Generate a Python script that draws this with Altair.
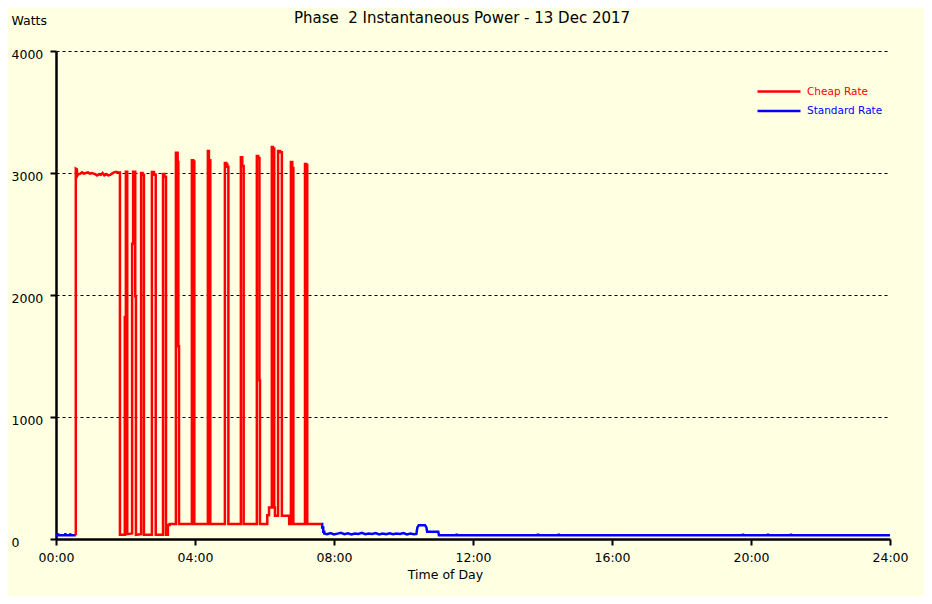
import altair as alt
import pandas as pd

# ---- data (hours of day, watts) ----
red_hours = [0.57, 0.57, 0.60, 0.61, 0.64, 0.70, 0.75, 0.80, 0.86, 0.92, 0.97, 1.03, 1.08, 1.13,
             1.18, 1.24, 1.29, 1.34, 1.39, 1.45, 1.50, 1.56, 1.61, 1.67, 1.73, 1.79, 1.84, 1.84,
             1.98, 1.98, 2.01, 2.01, 2.05, 2.05,
             2.19, 2.19, 2.22, 2.22, 2.28, 2.28, 2.30, 2.30,
             2.45, 2.45, 2.49, 2.49, 2.53, 2.53,
             2.76, 2.76, 2.82, 2.82, 2.87, 2.87,
             3.08, 3.08, 3.12, 3.12, 3.165, 3.165,
             3.22, 3.22, 3.27, 3.27,
             3.45, 3.45, 3.50, 3.50, 3.52, 3.52, 3.54, 3.54,
             3.91, 3.91, 3.95, 3.95, 3.98, 3.98,
             4.37, 4.37, 4.40, 4.40, 4.44, 4.44,
             4.86, 4.86, 4.90, 4.90, 4.93, 4.93, 4.96, 4.96,
             5.32, 5.32, 5.36, 5.36, 5.40, 5.40,
             5.78, 5.78, 5.82, 5.82, 5.855, 5.855, 5.87, 5.87,
             6.08, 6.08, 6.13, 6.13,
             6.21, 6.21, 6.24, 6.24, 6.28, 6.28, 6.30, 6.30,
             6.39, 6.39, 6.45, 6.45, 6.50, 6.50,
             6.71, 6.71,
             6.76, 6.76, 6.80, 6.80, 6.83, 6.83,
             7.165, 7.165, 7.20, 7.20, 7.23, 7.23,
             7.63]
red_watts = [30, 3035, 3030, 2975, 2990, 2995, 3005, 2995, 3000, 3005, 2995, 3000, 2995, 2990,
             2980, 2990, 2985, 3000, 2980, 2990, 2980, 2985, 2995, 3005, 3010, 3005, 3005, 35,
             35, 1820, 1820, 3010, 3010, 40,
             45, 2420, 2420, 3010, 3010, 1990, 1990, 35,
             40, 3000, 3000, 2985, 2985, 35,
             35, 3008, 3008, 2985, 2985, 35,
             35, 2992, 2992, 2970, 2970, 35,
             35, 115, 115, 122,
             122, 3165, 3165, 3090, 3090, 1580, 1580, 122,
             122, 3105, 3105, 3095, 3095, 122,
             122, 3180, 3180, 3105, 3105, 122,
             122, 3082, 3082, 3070, 3070, 3052, 3052, 122,
             122, 3130, 3130, 3057, 3057, 122,
             122, 3140, 3140, 3122, 3122, 1300, 1300, 122,
             122, 195, 195, 258,
             258, 3213, 3213, 3200, 3200, 258, 258, 190,
             190, 3180, 3180, 3170, 3170, 190,
             190, 122,
             122, 3090, 3090, 3040, 3040, 122,
             122, 3074, 3074, 3066, 3066, 122,
             122]

blue_hours = [0.00, 0.05, 0.06, 0.07, 0.26, 0.27, 0.28, 0.40, 0.41, 0.42, 0.57,
              7.63, 7.66, 7.66, 7.69, 7.69, 7.72, 7.72, 7.8, 7.9, 8.0, 8.1, 8.2, 8.3, 8.4,
              8.5, 8.6, 8.7, 8.8, 8.9, 9.0, 9.1, 9.2, 9.3, 9.4, 9.5, 9.6, 9.7, 9.8, 9.9,
              10.0, 10.1, 10.2, 10.3, 10.37, 10.40, 10.44, 10.62, 10.66, 10.68, 11.00, 11.02,
              11.52, 11.53, 11.54, 13.86, 13.87, 13.88, 14.46, 14.47, 14.48,
              19.76, 19.77, 19.78, 20.48, 20.49, 20.50, 21.14, 21.15, 21.16, 24.0]
blue_watts = [30, 30, 45, 30, 30, 48, 30, 30, 45, 30, 30,
              122, 122, 95, 95, 60, 60, 45, 40, 48, 38, 44, 50, 40, 46,
              38, 45, 42, 50, 39, 45, 41, 48, 38, 44, 40, 47, 39, 45, 42,
              49, 38, 44, 40, 42, 95, 112, 112, 95, 60, 60, 30,
              30, 42, 30, 30, 42, 30, 30, 42, 30,
              30, 42, 30, 30, 42, 30, 30, 42, 30, 30]
blue_segment = [0] * 11 + [1] * 60

hour_ticks = [0, 4, 8, 12, 16, 20, 24]
watt_ticks = [0, 1000, 2000, 3000, 4000]
series_names = ["Cheap Rate", "Standard Rate"]
series_colors = ["#FF0000", "#0000FF"]

red_df = pd.DataFrame({"t": red_hours, "w": red_watts, "i": range(len(red_hours)),
                       "series": series_names[0]})
blue_df = pd.DataFrame({"t": blue_hours, "w": blue_watts, "i": range(len(blue_hours)),
                        "seg": blue_segment, "series": series_names[1]})

FONT = "DejaVu Sans"

x_enc = alt.X(
    "t:Q",
    scale=alt.Scale(domain=[0, 24], nice=False, zero=False),
    axis=alt.Axis(
        values=hour_ticks,
        labelExpr="(datum.value < 10 ? '0' : '') + datum.value + ':00'",
        grid=False, domainColor="black", domainWidth=2.5,
        tickColor="black", tickWidth=2, tickSize=6,
        labelFont=FONT, labelFontSize=12.5, labelColor="black", labelPadding=6,
        labelFlush=False,
        title="Time of Day", titleFont=FONT, titleFontSize=12.5, titleFontWeight="normal",
        titleColor="black", titleX=389, titleY=29, titleBaseline="top", titleAlign="center",
    ),
)
y_enc = alt.Y(
    "w:Q",
    scale=alt.Scale(domain=[0, 4000], nice=False),
    axis=alt.Axis(
        values=watt_ticks, format="d",
        grid=True, gridDash=[3, 3], gridColor="black", gridWidth=1, gridOpacity=1,
        domainColor="black", domainWidth=2.5,
        tickColor="black", tickWidth=2, tickSize=6,
        labelFont=FONT, labelFontSize=12.5, labelColor="black",
        labelAlign="left", labelBaseline="middle", labelPadding=39, labelOffset=3,
        title="Watts", titleFont=FONT, titleFontSize=12.5, titleFontWeight="normal",
        titleColor="black", titleAngle=0, titleAlign="left", titleBaseline="middle",
        titleX=-45, titleY=-31,
    ),
)

def legend(y, color):
    return alt.Legend(
        orient="none", legendX=700, legendY=y, title=None, padding=0,
        symbolType="stroke", symbolSize=1849, symbolStrokeWidth=2.5,
        labelColor=color, labelFont=FONT, labelFontSize=10.5, labelOffset=5,
    )

blue = alt.Chart(blue_df).mark_line(strokeWidth=2.5).encode(
    x=x_enc, y=y_enc, detail="seg:N", order="i:Q",
    color=alt.Color("series:N",
                    scale=alt.Scale(domain=[series_names[1]], range=[series_colors[1]]),
                    legend=legend(37, series_colors[1])),
)
red = alt.Chart(red_df).mark_line(strokeWidth=2.5).encode(
    x=x_enc, y=y_enc, order="i:Q",
    color=alt.Color("series:N",
                    scale=alt.Scale(domain=[series_names[0]], range=[series_colors[0]]),
                    legend=legend(17.5, series_colors[0])),
)

chart = alt.layer(blue, red).resolve_scale(color="independent").properties(
    width=834, height=488,
    padding={"left": 48, "top": 43, "right": 34, "bottom": 57},
    autosize=alt.AutoSizeParams(type="none"),
    background="#FFFFE1",
    title=alt.Title("Phase \u00a02 Instantaneous Power - 13 Dec 2017",
                    font=FONT, fontSize=15, fontWeight="normal", color="black",
                    anchor="middle", dx=-11, dy=16),
).configure_view(stroke=None, fill="#FFFFE1")

chart.save("out.html", embed_options={"renderer": "svg", "actions": False})
